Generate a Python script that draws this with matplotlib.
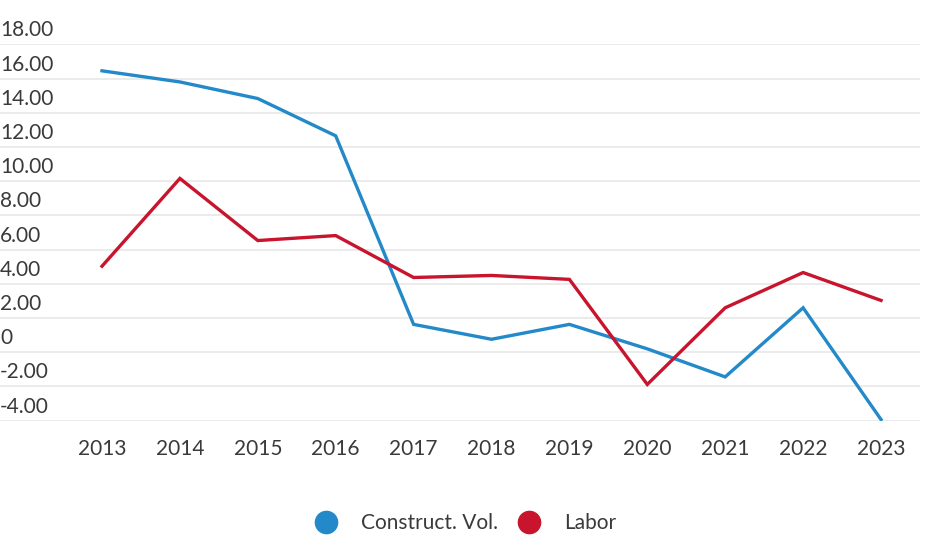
import matplotlib
matplotlib.use("Agg")
import matplotlib.pyplot as plt
from matplotlib.lines import Line2D
from matplotlib.transforms import offset_copy, blended_transform_factory

years = [2013, 2014, 2015, 2016, 2017, 2018, 2019, 2020, 2021, 2022, 2023]
construct_vol = [16.45, 15.8, 14.83, 12.65, 1.63, 0.76, 1.63, 0.2, -1.44, 2.6, -3.93]
labor = [5.03, 10.16, 6.53, 6.82, 4.37, 4.49, 4.26, -1.88, 2.6, 4.66, 3.03]
y_ticks = [18, 16, 14, 12, 10, 8, 6, 4, 2, 0, -2, -4]
y_tick_labels = ["18.00", "16.00", "14.00", "12.00", "10.00", "8.00", "6.00",
                 "4.00", "2.00", "0", "-2.00", "-4.00"]
series_names = ["Construct. Vol.", "Labor"]

BLUE = "#2389c9"
RED = "#c8142c"
TEXT = "#3a3a3a"
FONT = "Lato"

fig = plt.figure(figsize=(9.27, 5.36), dpi=100)
ax = fig.add_axes([0, 1 - 420.7 / 536, 920 / 927, (420.7 - 44.3) / 536])

ax.plot(years, construct_vol, color=BLUE, lw=2.4, solid_joinstyle="miter", zorder=3)
ax.plot(years, labor, color=RED, lw=2.4, solid_joinstyle="miter", zorder=3)

px = 77.9
ax.set_xlim(2013 - 102 / px, 2013 + 818 / px)
ax.set_ylim(-4, 18)

ax.set_yticks(y_ticks)
ax.yaxis.grid(True, color="#ebebeb", lw=1.4, zorder=0)
ax.set_axisbelow(True)
ax.tick_params(axis="y", length=0, labelleft=False)
for s in ax.spines.values():
    s.set_visible(False)

trans = blended_transform_factory(ax.transAxes, ax.transData)
trans = offset_copy(trans, fig=fig, x=0, y=8, units="dots")
for v, lab in zip(y_ticks, y_tick_labels):
    ax.text(0.0, v, lab, transform=trans, ha="left", va="baseline",
            fontsize=15, color=TEXT, family=FONT, fontweight="normal")

ax.set_xticks(years)
ax.set_xticklabels([str(y) for y in years], fontsize=15, color=TEXT,
                   family=FONT, fontweight="normal")
ax.tick_params(axis="x", length=0, pad=13)

handles = [Line2D([], [], ls="none", marker="o", markersize=16,
                  markerfacecolor=c, markeredgecolor=c) for c in (BLUE, RED)]
leg = fig.legend(handles, series_names, loc="center", bbox_to_anchor=(466 / 927, 1 - 523 / 536),
                 ncol=2, frameon=False, handlelength=1.0, handletextpad=1.18,
                 columnspacing=1.0, prop={"family": FONT, "size": 15, "weight": "normal"})
for t in leg.get_texts():
    t.set_color(TEXT)

fig.savefig("out.png", dpi=100)
